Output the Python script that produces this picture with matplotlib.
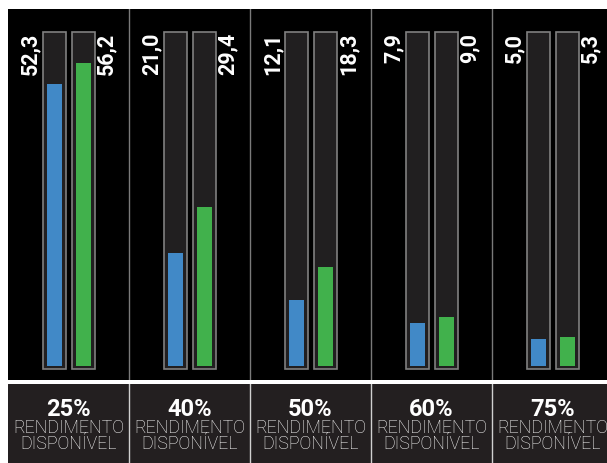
import matplotlib
matplotlib.use("Agg")
import matplotlib.pyplot as plt
from matplotlib.patches import Rectangle

# data
categories = ["25%", "40%", "50%", "60%", "75%"]
blue_vals = [52.3, 21.0, 12.1, 7.9, 5.0]
green_vals = [56.2, 29.4, 18.3, 9.0, 5.3]
sub_line1 = "RENDIMENTO"
sub_line2 = "DISPONÍVEL"

# styles
BLUE = "#4189c7"
GREEN = "#41b14c"
TRACK_FILL = "#211f20"
TRACK_EDGE = "#808080"
BOTTOM_BG = "#231f20"
TRACK_MAX = 61.9
FONT = ["Roboto", "DejaVu Sans"]

W, H = 607, 463
fig = plt.figure(figsize=(W / 100, H / 100), dpi=100)
fig.patch.set_facecolor("white")

# black chart panel
ax = fig.add_axes([8 / W, 1 - 380 / H, 599 / W, 371 / H])
ax.set_facecolor("black")
ax.set_xlim(0, 599 / 121)
ax.set_ylim(-2.66, 66.2)
ax.set_axis_off()
ax.add_patch(Rectangle((0, -2.66), 10, 70, color="black", zorder=0))

blue_off, green_off = 0.384, 0.624
track_w, bar_w = 0.185, 0.124

for i, (b, g) in enumerate(zip(blue_vals, green_vals)):
    for off in (blue_off, green_off):
        ax.add_patch(Rectangle((i + off - track_w / 2, -0.55), track_w, TRACK_MAX + 0.55,
                               facecolor=TRACK_FILL, edgecolor=TRACK_EDGE, lw=1.2, zorder=2))
    ax.bar([i + blue_off], [b], width=bar_w, color=BLUE, zorder=3)
    ax.bar([i + green_off], [g], width=bar_w, color=GREEN, zorder=3)
    ax.text(i + 0.185, 61.8, f"{b:.1f}".replace(".", ","), rotation=90, ha="center", va="top",
            color="white", fontsize=15.5, fontweight="bold", family=FONT, zorder=4)
    ax.text(i + 0.815, 61.8, f"{g:.1f}".replace(".", ","), rotation=90, ha="center", va="top",
            color="white", fontsize=15.5, fontweight="bold", family=FONT, zorder=4)

for i in range(1, len(categories)):
    ax.axvline(i, color="#7a7a7a", lw=1.0, zorder=1)

# bottom label panel
axb = fig.add_axes([8 / W, 0, 599 / W, 79 / H])
axb.set_xlim(0, 599 / 121)
axb.set_ylim(0, 1)
axb.set_axis_off()
axb.add_patch(Rectangle((0, 0), 10, 1, color=BOTTOM_BG, zorder=0))
for i in range(1, len(categories)):
    axb.axvline(i, color="#d0d0d0", lw=1.0, zorder=1)

for i, cat in enumerate(categories):
    cx = i + 0.5
    axb.text(cx, 0.595, cat, ha="center", va="baseline", color="white",
             fontsize=17, fontweight="bold", family=FONT)
    axb.text(cx, 0.383, sub_line1, ha="center", va="baseline", color="white",
             fontsize=12.8, fontweight="light", family=FONT)
    axb.text(cx, 0.174, sub_line2, ha="center", va="baseline", color="white",
             fontsize=12.8, fontweight="light", family=FONT)

fig.savefig("out.png", dpi=100, facecolor=fig.get_facecolor())
